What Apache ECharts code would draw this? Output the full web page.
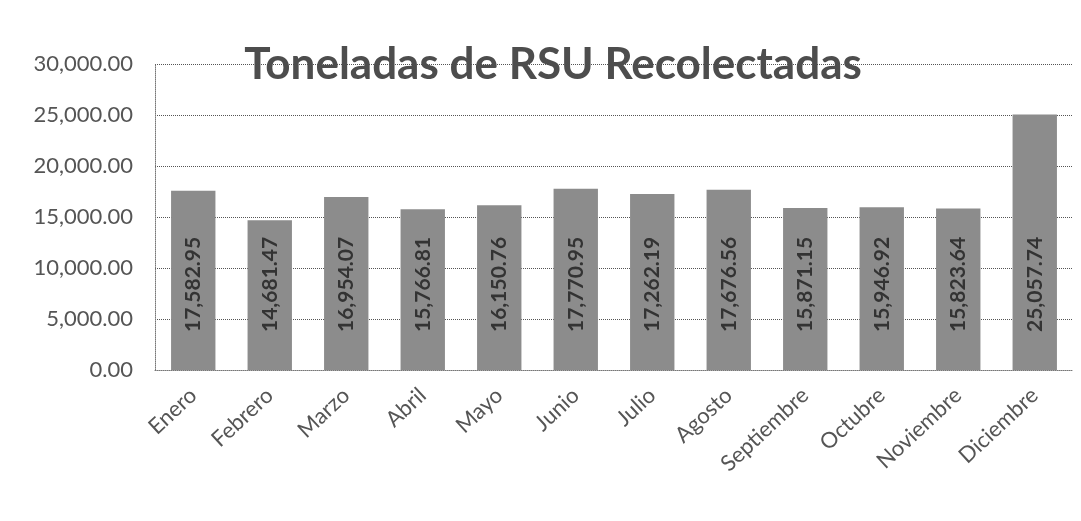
<!DOCTYPE html>
<html><head><meta charset="utf-8">
<script src="https://cdn.jsdelivr.net/npm/echarts@6/dist/echarts.min.js"></script>
<style>html,body{margin:0;padding:0;background:#fff}#c{width:1081px;height:521px}</style>
</head><body><div id="c"></div>
<script>
const categories = ['Enero','Febrero','Marzo','Abril','Mayo','Junio','Julio','Agosto','Septiembre','Octubre','Noviembre','Diciembre'];
const values = [17582.95,14681.47,16954.07,15766.81,16150.76,17770.95,17262.19,17676.56,15871.15,15946.92,15823.64,25057.74];
const titleText = 'Toneladas de RSU Recolectadas';
const fmt = v => v.toLocaleString('en-US',{minimumFractionDigits:2,maximumFractionDigits:2});
const chart = echarts.init(document.getElementById('c'));
chart.setOption({
  animation:false,
  backgroundColor:'#fff',
  title:{text:titleText,left:548,textAlign:'center',top:38,textStyle:{fontFamily:'Lato',fontWeight:'bold',fontSize:44,color:'#4d4d4d'}},
  grid:{left:155,right:8,top:64,bottom:151},
  xAxis:{type:'category',data:categories,
    axisLine:{show:true,lineStyle:{color:'#777',type:'dotted'}},axisTick:{show:false},
    axisLabel:{rotate:43,fontFamily:'Lato',fontSize:22,color:'#555',margin:22,interval:0},
    splitLine:{show:false}},
  yAxis:{type:'value',min:0,max:30000,interval:5000,
    axisLine:{show:true,lineStyle:{color:'#777',type:'dotted'}},axisTick:{show:false},
    axisLabel:{formatter:fmt,fontFamily:'Lato',fontSize:22,color:'#555',margin:22},
    splitLine:{lineStyle:{color:'#555',type:'dotted',width:1}}},
  series:[{type:'bar',data:values,barWidth:'58%',
    itemStyle:{color:'#8c8c8c'},
    label:{show:true,position:'insideBottom',distance:38,rotate:90,align:'left',verticalAlign:'middle',formatter:p=>fmt(p.value),fontFamily:'Lato',fontWeight:'bold',fontSize:21,color:'#333'}}]
});
</script></body></html>
